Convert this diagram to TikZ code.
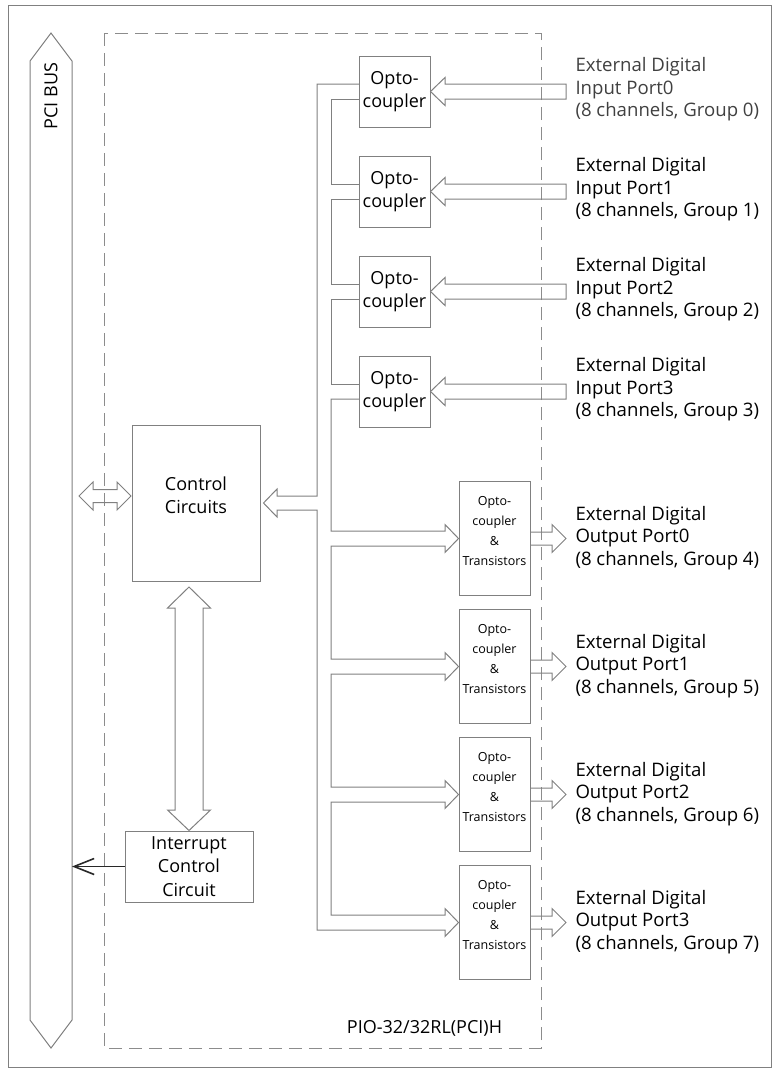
\documentclass[tikz,border=0pt]{standalone}
\usepackage{fontspec}
\setmainfont{Open Sans}
\usetikzlibrary{arrows.meta}
\definecolor{linegray}{RGB}{128,128,128}
\definecolor{dashgray}{RGB}{140,140,140}
\definecolor{darkline}{RGB}{40,40,40}
\definecolor{lblgray}{RGB}{64,64,64}
\begin{document}
\begin{tikzpicture}[x=1pt,y=-1pt,line width=1pt,
  box/.style={draw=linegray,line width=1pt,inner sep=0pt,align=center},
  hollow/.style={draw=linegray,line width=1pt,line join=miter},
  big/.style={font=\fontsize{18}{23.5}\selectfont},
  small/.style={font=\fontsize{12.5}{20}\selectfont},
  lbl/.style={anchor=west,align=left,inner sep=0pt,font=\fontsize{18.6}{22.5}\selectfont}]
\useasboundingbox (0,0) rectangle (779,1072);
% frame
\draw[linegray] (8,5) rectangle (771,1067);
% PCI bus
\draw[hollow] (51,33) -- (72,61) -- (72,1020) -- (51,1048) -- (30,1020) -- (30,61) -- cycle;
\node[rotate=90,big,inner sep=0pt] (pcilbl) at (51,96) {PCI BUS};
% dashed board
\draw[dashgray,dash pattern=on 13pt off 7pt] (104,33) rectangle (541,1048);
\node[big,inner sep=0pt] (pio) at (424.5,1028) {PIO-32/32RL(PCI)H};
% input optocouplers
\foreach \k in {0,1,2,3}{
  \pgfmathsetmacro{\c}{91.5+100*\k}
  \node[box,big,minimum width=71,minimum height=71] (in\k) at (394.5,\c) {Opto-\\coupler};
  \draw[hollow] (566,\c-7.5) -- (445,\c-7.5) -- (445,\c-14) -- (in\k.east) -- (445,\c+14) -- (445,\c+7.5) -- (566,\c+7.5) -- cycle;
}
\node[lbl,text=lblgray] (lin0) at (575,89.5) {External Digital\\Input Port0\\(8 channels, Group 0)};
\node[lbl] (lin1) at (575,189.5) {External Digital\\Input Port1\\(8 channels, Group 1)};
\node[lbl] (lin2) at (575,289.5) {External Digital\\Input Port2\\(8 channels, Group 2)};
\node[lbl] (lin3) at (575,389.5) {External Digital\\Input Port3\\(8 channels, Group 3)};
% output optocouplers
\foreach \k in {0,1,2,3}{
  \pgfmathsetmacro{\c}{538.5+128*\k}
  \node[box,minimum width=71,minimum height=114] (out\k) at (494.5,\c) {};
  \node[small,align=center,inner sep=0pt] (outt\k) at ([yshift=7]out\k.center) {Opto-\\coupler\\\&\\Transistors};
  \draw[hollow] (530,\c-6.5) -- (552,\c-6.5) -- (552,\c-14) -- (566,\c) -- (552,\c+14) -- (552,\c+6.5) -- (530,\c+6.5);
}
\node[lbl] (lout0) at (575,538) {External Digital\\Output Port0\\(8 channels, Group 4)};
\node[lbl] (lout1) at (575,666) {External Digital\\Output Port1\\(8 channels, Group 5)};
\node[lbl] (lout2) at (575,794) {External Digital\\Output Port2\\(8 channels, Group 6)};
\node[lbl] (lout3) at (575,922) {External Digital\\Output Port3\\(8 channels, Group 7)};
% control circuits
\node[box,minimum width=128,minimum height=156] (ctrl) at (196,503) {};
\node[big,align=center,inner sep=0pt] (ctrlt) at ([yshift=8]ctrl.center) {Control\\Circuits};
% interrupt
\node[box,big,minimum width=128,minimum height=71] (intr) at (189,866.5) {Interrupt\\Control\\Circuit};
% internal bus
\draw[hollow] (359,84) -- (317,84) -- (317,496) -- (277,496) -- (277,489) -- ([xshift=3]ctrl.east) -- (277,517) -- (277,510) -- (317,510)
  -- (317,930) -- (445,930) -- (445,936.5) -- (out3.west) -- (445,908.5) -- (445,915) -- (331,915)
  -- (331,802) -- (445,802) -- (445,808.5) -- (out2.west) -- (445,780.5) -- (445,787) -- (331,787)
  -- (331,674) -- (445,674) -- (445,680.5) -- (out1.west) -- (445,652.5) -- (445,659) -- (331,659)
  -- (331,546) -- (445,546) -- (445,552.5) -- (out0.west) -- (445,524.5) -- (445,531) -- (331,531)
  -- (331,399) -- (359,399);
\draw[hollow] (359,99) -- (331,99) -- (331,184) -- (359,184);
\draw[hollow] (359,199) -- (331,199) -- (331,284) -- (359,284);
\draw[hollow] (359,299) -- (331,299) -- (331,384) -- (359,384);
% PCI <-> control
\draw[hollow] (79,496) -- (93,482) -- (93,489.5) -- (117,489.5) -- (117,482) -- (131,496) -- (117,510) -- (117,502.5) -- (93,502.5) -- (93,510) -- cycle;
% control <-> interrupt
\draw[hollow] (189,587) -- (210.5,608) -- (203,608) -- (203,810) -- (210.5,810) -- (intr.north) -- (167.5,810) -- (175,810) -- (175,608) -- (167.5,608) -- cycle;
% interrupt -> PCI
\coordinate (busedge) at (72,866.5);
\draw[darkline,line width=1.6pt,-{Straight Barb[length=20pt,width=16pt,line width=1.6pt]}] (intr.west) -- (busedge);
\end{tikzpicture}
\end{document}
